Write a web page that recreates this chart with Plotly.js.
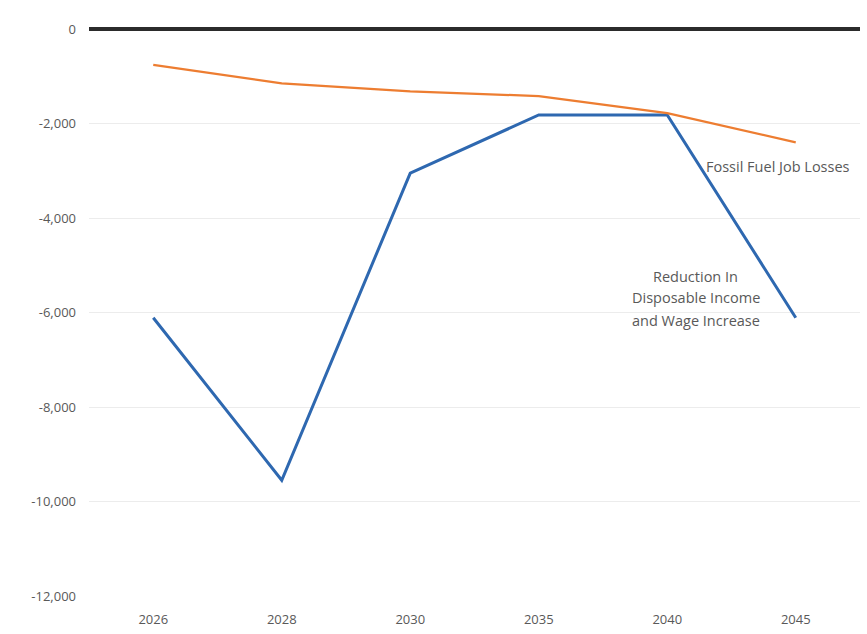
<!DOCTYPE html>
<html>
<head>
<meta charset="utf-8">
<script src="https://cdn.plot.ly/plotly-3.0.1.min.js"></script>
<style>
  html, body { margin: 0; padding: 0; background: #fff; }
  #chart { width: 867px; height: 634px; }
</style>
</head>
<body>
<div id="chart"></div>
<script>
// Years on the category axis
const years = ['2026', '2028', '2030', '2035', '2040', '2045'];

// Jobs impact by year
const disposableIncomeWage = [-6110, -9550, -3050, -1820, -1820, -6110];
const fossilFuelJobLosses = [-760, -1150, -1320, -1420, -1780, -2400];

// Y-axis ticks
const yTickVals = [0, -2000, -4000, -6000, -8000, -10000, -12000];
const yTickText = ['0', '-2,000', '-4,000', '-6,000', '-8,000', '-10,000', '-12,000'];

// Series labels placed beside the lines
const incomeLabelLines = ['Reduction In', 'Disposable Income', 'and Wage Increase'];
const fossilLabel = 'Fossil Fuel Job Losses';

const fontFamily = '"Open Sans", "Liberation Sans", sans-serif';
const textColor = '#595959';

const traces = [
  {
    x: years, y: disposableIncomeWage, type: 'scatter', mode: 'lines',
    name: incomeLabelLines.join(' '),
    line: { color: '#2E68B0', width: 3 }, hoverinfo: 'x+y'
  },
  {
    x: years, y: fossilFuelJobLosses, type: 'scatter', mode: 'lines',
    name: fossilLabel,
    line: { color: '#ED7D31', width: 2.25 }, hoverinfo: 'x+y'
  }
];

const annotations = [
  {
    xref: 'x', yref: 'y', x: 4.86, y: -2920,
    text: fossilLabel, showarrow: false,
    font: { family: fontFamily, size: 14.5, color: textColor }
  }
];
// Three-line label with wider line spacing
incomeLabelLines.forEach((line, i) => {
  annotations.push({
    xref: 'x', yref: 'paper', x: 4.22,
    yanchor: 'middle', y: 1 - (276 + i * 22 - 29) / 567,
    text: line, showarrow: false,
    font: { family: fontFamily, size: 14.5, color: textColor }
  });
});

const layout = {
  width: 867, height: 634,
  margin: { l: 89, r: 7, t: 29, b: 38 },
  paper_bgcolor: '#fff', plot_bgcolor: '#fff',
  showlegend: false,
  font: { family: fontFamily, color: textColor },
  xaxis: {
    type: 'category', range: [-0.5, 5.5],
    showgrid: false, zeroline: false, showline: false,
    ticks: '', tickfont: { family: fontFamily, size: 13, color: textColor },
    ticklabelstandoff: 14
  },
  yaxis: {
    range: [-12000, 0], tickvals: yTickVals, ticktext: yTickText,
    showgrid: true, gridcolor: '#ececec', gridwidth: 1,
    zeroline: true, zerolinecolor: '#2b2b2b', zerolinewidth: 4,
    showline: false, ticks: '',
    tickfont: { family: fontFamily, size: 13, color: textColor },
    ticklabelstandoff: 12
  },
  annotations: annotations
};

Plotly.newPlot('chart', traces, layout, { displayModeBar: false, staticPlot: true });
</script>
</body>
</html>
